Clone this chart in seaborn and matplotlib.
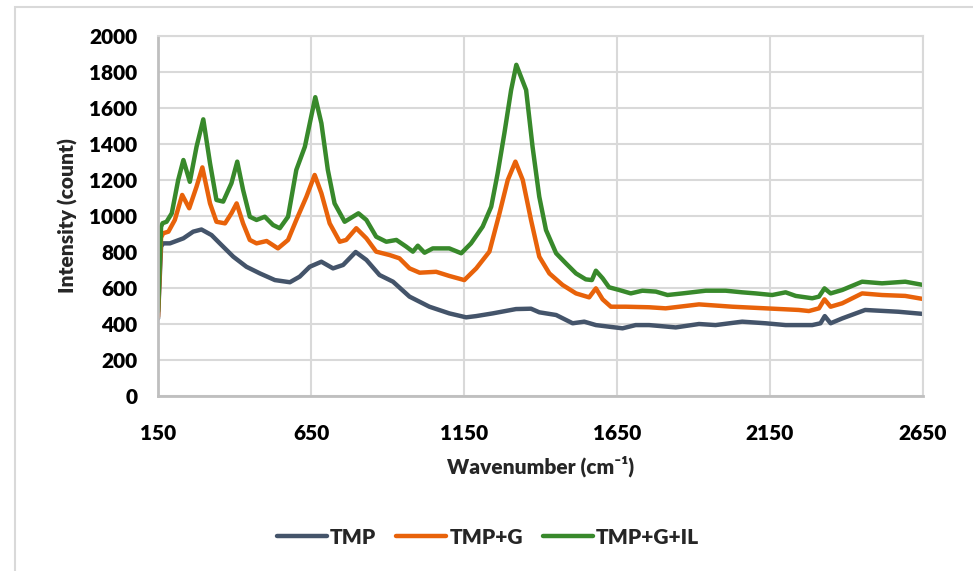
import matplotlib
matplotlib.use("Agg")
import matplotlib.pyplot as plt
import matplotlib.patches as mpatches
import pandas as pd
import seaborn as sns

# ---- data ----
series_names = ["TMP", "TMP+G", "TMP+G+IL"]

tmp_x = [150, 160, 167, 189, 233, 265, 292, 325, 352, 396,
         439, 483, 532, 581, 613, 646, 684, 722, 755, 796,
         831, 874, 918, 972, 1037, 1102, 1157, 1190, 1244, 1320,
         1369, 1396, 1451, 1505, 1543, 1581, 1624, 1668, 1711, 1755,
         1842, 1918, 1972, 2059, 2136, 2201, 2288, 2315, 2329, 2348,
         2386, 2461, 2570, 2650]
tmp_y = [430, 830, 848, 848, 876, 913, 925, 894, 848, 774,
         718, 681, 644, 632, 663, 718, 746, 709, 728, 800,
         756, 672, 635, 552, 496, 459, 437, 444, 459, 483,
         485, 465, 450, 404, 413, 394, 385, 376, 394, 394,
         381, 400, 394, 413, 404, 394, 394, 404, 444, 404,
         431, 478, 468, 456]

tmpg_x = [150, 160, 167, 184, 205, 229, 252, 276, 295, 320,
          341, 369, 390, 407, 428, 450, 472, 505, 542, 575,
          602, 635, 662, 684, 711, 744, 765, 798, 831, 863,
          907, 939, 972, 1005, 1059, 1102, 1151, 1190, 1233, 1266,
          1293, 1318, 1342, 1369, 1396, 1429, 1472, 1516, 1559, 1581,
          1603, 1630, 1679, 1755, 1809, 1918, 2027, 2136, 2244, 2277,
          2310, 2328, 2348, 2386, 2451, 2516, 2592, 2650]
tmpg_y = [440, 880, 904, 913, 978, 1117, 1043, 1163, 1270, 1070,
          968, 959, 1015, 1070, 959, 867, 848, 861, 820, 867,
          978, 1107, 1228, 1126, 959, 857, 867, 932, 876, 802,
          783, 765, 709, 685, 690, 667, 644, 709, 802, 1015,
          1200, 1302, 1200, 978, 774, 681, 617, 570, 548, 598,
          537, 496, 496, 493, 487, 509, 496, 487, 478, 472,
          487, 537, 496, 515, 570, 561, 556, 539]

tmpgil_x = [150, 160, 165, 178, 195, 216, 233, 254, 276, 298,
            320, 341, 363, 390, 409, 428, 450, 472, 499, 526,
            548, 575, 602, 630, 646, 664, 684, 705, 727, 760,
            805, 831, 863, 896, 929, 961, 983, 999, 1021, 1048,
            1102, 1141, 1173, 1211, 1239, 1260, 1282, 1304, 1321, 1353,
            1374, 1396, 1418, 1451, 1483, 1516, 1548, 1568, 1581, 1603,
            1624, 1657, 1695, 1733, 1777, 1815, 1864, 1940, 2005, 2059,
            2103, 2157, 2201, 2234, 2288, 2310, 2328, 2348, 2386, 2451,
            2516, 2592, 2650]
tmpgil_y = [470, 940, 960, 968, 1015, 1200, 1311, 1190, 1385, 1537,
            1293, 1089, 1080, 1182, 1302, 1145, 996, 978, 996, 950,
            932, 996, 1256, 1385, 1515, 1660, 1515, 1256, 1070, 968,
            1015, 978, 885, 857, 867, 830, 802, 835, 796, 820,
            820, 793, 848, 941, 1052, 1237, 1460, 1700, 1840, 1700,
            1385, 1107, 922, 793, 737, 681, 648, 644, 696, 654,
            604, 589, 570, 585, 580, 561, 570, 585, 585, 576,
            570, 561, 576, 556, 543, 552, 598, 570, 589, 635,
            626, 635, 617]

x_ticks = [150, 650, 1150, 1650, 2150, 2650]
y_ticks = [0, 200, 400, 600, 800, 1000, 1200, 1400, 1600, 1800, 2000]

colors = {"TMP": "#44546A", "TMP+G": "#E8620A", "TMP+G+IL": "#38892B"}

# ---- build long-form table ----
frames = []
for name, xs, ys in zip(series_names,
                        [tmp_x, tmpg_x, tmpgil_x],
                        [tmp_y, tmpg_y, tmpgil_y]):
    frames.append(pd.DataFrame({"Wavenumber": xs, "Intensity": ys, "Sample": name}))
df = pd.concat(frames, ignore_index=True)

sns.set_theme(style="white")
FAM = ["Lato", "DejaVu Sans"]
WT = "heavy"
FS = 15
plt.rcParams["font.family"] = FAM
plt.rcParams["font.weight"] = WT

W, H = 973, 571
fig = plt.figure(figsize=(W / 100, H / 100), dpi=100)
L, R, T, B = 158, 923, 36, 396
ax = fig.add_axes([L / W, 1 - B / H, (R - L) / W, (B - T) / H])

sns.lineplot(data=df, x="Wavenumber", y="Intensity", hue="Sample",
             hue_order=series_names, palette=colors, estimator=None,
             sort=True, linewidth=3.2, ax=ax, legend=False)
for ln in ax.get_lines():
    ln.set_solid_joinstyle("round")
    ln.set_solid_capstyle("round")

ax.set_xlim(150, 2650)
ax.set_ylim(0, 2000)
ax.set_xticks(x_ticks)
ax.set_yticks(y_ticks)
ax.set_xticklabels([str(v) for v in x_ticks], fontsize=FS, fontweight=WT)
ax.set_yticklabels([str(v) for v in y_ticks], fontsize=FS, fontweight=WT)
ax.tick_params(axis="both", length=0, colors="black")
ax.tick_params(axis="x", pad=20)
ax.tick_params(axis="y", pad=15)

ax.grid(True, color="#D9D9D9", linewidth=1.5)
ax.set_axisbelow(True)
for side in ["top", "right"]:
    ax.spines[side].set_color("#D9D9D9")
    ax.spines[side].set_linewidth(1.5)
for side in ["left", "bottom"]:
    ax.spines[side].set_color("#BFBFBF")
    ax.spines[side].set_linewidth(2)

ax.set_xlabel("Wavenumber (cm\u207b\u00b9)", fontsize=FS, fontweight=WT)
ax.set_ylabel("Intensity (count)", fontsize=FS, fontweight=WT)
ax.xaxis.set_label_coords(0.5, (B - 456) / (B - T))
ax.yaxis.set_label_coords((78 - L) / (R - L), 0.5)

handles = [plt.Line2D([0], [0], color=colors[n], linewidth=3.2,
                      solid_capstyle="round") for n in series_names]
fig.legend(handles, series_names, loc="center", ncol=3, frameon=False,
           bbox_to_anchor=(488 / W, 1 - 537 / H),
           prop={"family": FAM, "weight": WT, "size": FS},
           handlelength=2.4, handletextpad=0.15, columnspacing=0.95)

border = mpatches.Rectangle((14.5 / W, -0.05), 1.2, (1 - 6.5 / H) + 0.05,
                            transform=fig.transFigure, fill=False,
                            edgecolor="#D9D9D9", linewidth=1.5, clip_on=False)
fig.patches.append(border)

fig.savefig("out.png", dpi=100, facecolor="white")
